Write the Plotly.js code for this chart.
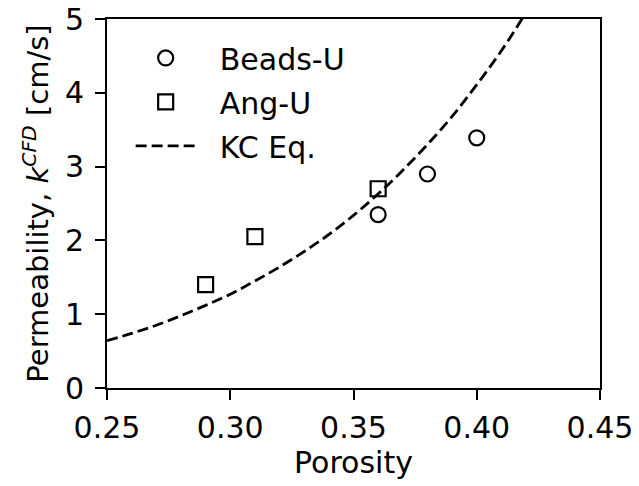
<!DOCTYPE html>
<html>
<head>
<meta charset="utf-8">
<script src="https://cdn.plot.ly/plotly-3.0.1.min.js"></script>
<style>
html,body{margin:0;padding:0;background:#fff;}
#chart{width:639px;height:486px;}
</style>
</head>
<body>
<div id="chart"></div>
<script>
// Data
const beadsPorosity = [0.36, 0.38, 0.40];
const beadsPerm = [2.35, 2.90, 3.39];
const angPorosity = [0.29, 0.31, 0.36];
const angPerm = [1.40, 2.05, 2.70];
const kcPorosity = [0.25, 0.26, 0.27, 0.28, 0.29, 0.30, 0.31, 0.32, 0.33, 0.34, 0.35, 0.36, 0.37, 0.38, 0.39, 0.40, 0.41, 0.42, 0.43];
const kcPerm = [0.64, 0.74, 0.85, 0.98, 1.12, 1.27, 1.45, 1.64, 1.85, 2.08, 2.34, 2.63, 2.95, 3.30, 3.68, 4.11, 4.57, 5.09, 5.65];
const seriesNames = ["Beads-U", "Ang-U", "KC Eq."];
const xTicks = [0.25, 0.30, 0.35, 0.40, 0.45];
const xTickText = ["0.25", "0.30", "0.35", "0.40", "0.45"];
const yTicks = [0, 1, 2, 3, 4, 5];

const FONT = "DejaVu Sans, sans-serif";
const FS = 30;
const PAD = "\u00a0\u00a0";

const traces = [
  {
    x: beadsPorosity, y: beadsPerm, name: PAD + seriesNames[0], legendgroup: "a", type: "scatter", mode: "markers",
    marker: {symbol: "circle-open", size: 15, color: "#000", line: {width: 2.2, color: "#000"}},
    cliponaxis: false
  },
  {
    x: angPorosity, y: angPerm, name: PAD + seriesNames[1], legendgroup: "b", type: "scatter", mode: "markers",
    marker: {symbol: "square-open", size: 15, color: "#000", line: {width: 2.2, color: "#000"}},
    cliponaxis: false
  },
  {
    x: kcPorosity, y: kcPerm, name: PAD + seriesNames[2], legendgroup: "c", type: "scatter", mode: "lines",
    line: {color: "#000", width: 2.8, dash: "11px,5px", shape: "spline"}
  }
];

const layout = {
  width: 639, height: 486,
  margin: {l: 107, r: 39, t: 19, b: 98},
  paper_bgcolor: "#fff", plot_bgcolor: "#fff",
  font: {family: FONT, size: FS, color: "#000"},
  showlegend: true,
  legend: {
    x: 0.048, y: 0.965, xanchor: "left", yanchor: "top",
    bgcolor: "rgba(0,0,0,0)", borderwidth: 0,
    font: {family: FONT, size: FS, color: "#000"},
    itemwidth: 60, tracegroupgap: 2
  },
  xaxis: {
    range: [0.25, 0.45], tickvals: xTicks, ticktext: xTickText,
    showgrid: false, zeroline: false,
    showline: true, linecolor: "#000", linewidth: 2, mirror: true,
    ticks: "outside", ticklen: 10, tickwidth: 2, tickcolor: "#000",
    ticklabelstandoff: 2,
    tickfont: {family: FONT, size: FS, color: "#000"},
    title: {text: "Porosity", font: {family: FONT, size: FS, color: "#000"}, standoff: 8}
  },
  yaxis: {
    range: [0, 5], tickvals: yTicks,
    showgrid: false, zeroline: false,
    showline: true, linecolor: "#000", linewidth: 2, mirror: true,
    ticks: "outside", ticklen: 10, tickwidth: 2, tickcolor: "#000",
    ticklabelstandoff: 5,
    tickfont: {family: FONT, size: FS, color: "#000"},
    title: {text: "Permeability, <i>k</i><sup><i>CFD</i></sup> [cm/s]", font: {family: FONT, size: FS - 1, color: "#000"}, standoff: 8}
  }
};

Plotly.newPlot("chart", traces, layout, {staticPlot: true, displayModeBar: false});
</script>
</body>
</html>
